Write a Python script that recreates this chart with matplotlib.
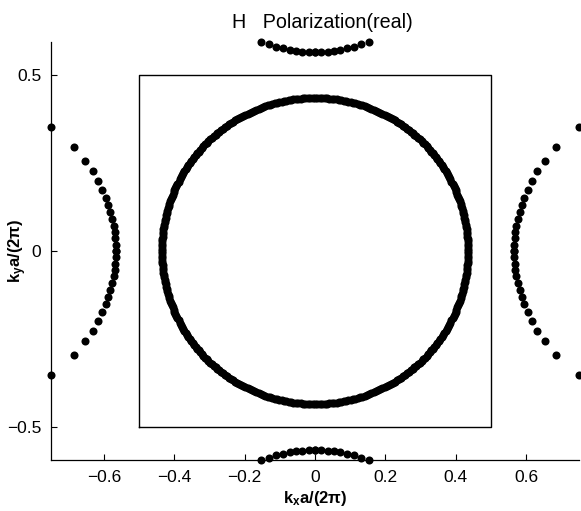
import numpy as np
import matplotlib
matplotlib.use("Agg")
import matplotlib.pyplot as plt

plt.rcParams['font.family'] = ['Liberation Sans', 'DejaVu Sans']
plt.rcParams['mathtext.fontset'] = 'custom'
plt.rcParams['mathtext.rm'] = 'Liberation Sans'
plt.rcParams['mathtext.bf'] = 'Liberation Sans:bold'
plt.rcParams['mathtext.it'] = 'Liberation Sans:italic'

# ---- data ----
title_text = "H   Polarization(real)"
x_label = r"$\mathbf{k_x a/(2\pi)}$"
y_label = r"$\mathbf{k_y a/(2\pi)}$"
x_ticks = [-0.6, -0.4, -0.2, 0, 0.2, 0.4, 0.6]
x_tick_labels = ["\u22120.6", "\u22120.4", "\u22120.2", "0", "0.2", "0.4", "0.6"]
y_ticks = [-0.5, 0, 0.5]
y_tick_labels = ["\u22120.5", "0", "0.5"]

# first Brillouin zone square (corners)
zone_x = [-0.5, 0.5, 0.5, -0.5, -0.5]
zone_y = [-0.5, -0.5, 0.5, 0.5, -0.5]

# main contour: ray directions (deg) and contour radius
ring_angle_deg = [
    0, 0.9, 1.8, 2.7, 3.6, 4.5, 5.4, 6.3, 7.2, 8.1,
    9, 9.9, 10.8, 11.7, 12.6, 13.5, 14.4, 15.3, 16.2, 17.1,
    18, 18.9, 19.8, 20.7, 21.6, 22.5, 23.4, 24.3, 25.2, 26.1,
    27, 27.9, 28.8, 29.7, 30.6, 31.5, 32.4, 33.3, 34.2, 35.1,
    36, 36.9, 37.8, 38.7, 39.6, 40.5, 41.4, 42.3, 43.2, 44.1,
    45, 45.9, 46.8, 47.7, 48.6, 49.5, 50.4, 51.3, 52.2, 53.1,
    54, 54.9, 55.8, 56.7, 57.6, 58.5, 59.4, 60.3, 61.2, 62.1,
    63, 63.9, 64.8, 65.7, 66.6, 67.5, 68.4, 69.3, 70.2, 71.1,
    72, 72.9, 73.8, 74.7, 75.6, 76.5, 77.4, 78.3, 79.2, 80.1,
    81, 81.9, 82.8, 83.7, 84.6, 85.5, 86.4, 87.3, 88.2, 89.1,
    90, 90.9, 91.8, 92.7, 93.6, 94.5, 95.4, 96.3, 97.2, 98.1,
    99, 99.9, 100.8, 101.7, 102.6, 103.5, 104.4, 105.3, 106.2, 107.1,
    108, 108.9, 109.8, 110.7, 111.6, 112.5, 113.4, 114.3, 115.2, 116.1,
    117, 117.9, 118.8, 119.7, 120.6, 121.5, 122.4, 123.3, 124.2, 125.1,
    126, 126.9, 127.8, 128.7, 129.6, 130.5, 131.4, 132.3, 133.2, 134.1,
    135, 135.9, 136.8, 137.7, 138.6, 139.5, 140.4, 141.3, 142.2, 143.1,
    144, 144.9, 145.8, 146.7, 147.6, 148.5, 149.4, 150.3, 151.2, 152.1,
    153, 153.9, 154.8, 155.7, 156.6, 157.5, 158.4, 159.3, 160.2, 161.1,
    162, 162.9, 163.8, 164.7, 165.6, 166.5, 167.4, 168.3, 169.2, 170.1,
    171, 171.9, 172.8, 173.7, 174.6, 175.5, 176.4, 177.3, 178.2, 179.1,
    180, 180.9, 181.8, 182.7, 183.6, 184.5, 185.4, 186.3, 187.2, 188.1,
    189, 189.9, 190.8, 191.7, 192.6, 193.5, 194.4, 195.3, 196.2, 197.1,
    198, 198.9, 199.8, 200.7, 201.6, 202.5, 203.4, 204.3, 205.2, 206.1,
    207, 207.9, 208.8, 209.7, 210.6, 211.5, 212.4, 213.3, 214.2, 215.1,
    216, 216.9, 217.8, 218.7, 219.6, 220.5, 221.4, 222.3, 223.2, 224.1,
    225, 225.9, 226.8, 227.7, 228.6, 229.5, 230.4, 231.3, 232.2, 233.1,
    234, 234.9, 235.8, 236.7, 237.6, 238.5, 239.4, 240.3, 241.2, 242.1,
    243, 243.9, 244.8, 245.7, 246.6, 247.5, 248.4, 249.3, 250.2, 251.1,
    252, 252.9, 253.8, 254.7, 255.6, 256.5, 257.4, 258.3, 259.2, 260.1,
    261, 261.9, 262.8, 263.7, 264.6, 265.5, 266.4, 267.3, 268.2, 269.1,
    270, 270.9, 271.8, 272.7, 273.6, 274.5, 275.4, 276.3, 277.2, 278.1,
    279, 279.9, 280.8, 281.7, 282.6, 283.5, 284.4, 285.3, 286.2, 287.1,
    288, 288.9, 289.8, 290.7, 291.6, 292.5, 293.4, 294.3, 295.2, 296.1,
    297, 297.9, 298.8, 299.7, 300.6, 301.5, 302.4, 303.3, 304.2, 305.1,
    306, 306.9, 307.8, 308.7, 309.6, 310.5, 311.4, 312.3, 313.2, 314.1,
    315, 315.9, 316.8, 317.7, 318.6, 319.5, 320.4, 321.3, 322.2, 323.1,
    324, 324.9, 325.8, 326.7, 327.6, 328.5, 329.4, 330.3, 331.2, 332.1,
    333, 333.9, 334.8, 335.7, 336.6, 337.5, 338.4, 339.3, 340.2, 341.1,
    342, 342.9, 343.8, 344.7, 345.6, 346.5, 347.4, 348.3, 349.2, 350.1,
    351, 351.9, 352.8, 353.7, 354.6, 355.5, 356.4, 357.3, 358.2, 359.1,
]
ring_radius = 0.435

# folded contour, right-hand arc (upper half; mirrored for lower half / left side)
side_arc_x = [0.565, 0.566, 0.567, 0.569, 0.572, 0.576, 0.581, 0.587,
              0.595, 0.604, 0.616, 0.631, 0.653, 0.685, 0.750]
side_arc_y = [0.000, 0.018, 0.036, 0.054, 0.072, 0.091, 0.111, 0.131,
              0.152, 0.174, 0.199, 0.227, 0.257, 0.295, 0.353]

# folded contour, top arc (right half; mirrored)
top_arc_x = [0.000, 0.018, 0.036, 0.054, 0.072, 0.091, 0.111, 0.131, 0.152]
top_arc_y = [0.565, 0.566, 0.567, 0.569, 0.572, 0.576, 0.581, 0.587, 0.594]

# ---- figure ----
fig = plt.figure(figsize=(5.81, 5.11), dpi=100)
ax = fig.add_axes([51 / 581, (511 - 460) / 511, 528 / 581, 418 / 511])

ang = np.deg2rad(np.array(ring_angle_deg))
ring_x = ring_radius * np.cos(ang)
ring_y = ring_radius * np.sin(ang)

sx = np.array(side_arc_x)
sy = np.array(side_arc_y)
tx = np.array(top_arc_x)
ty = np.array(top_arc_y)

mk = dict(linestyle='none', marker='o', color='black', markersize=5.8,
          markeredgewidth=0, clip_on=False)

ax.plot(zone_x, zone_y, color='black', linewidth=1.0, clip_on=False)
ax.plot(ring_x, ring_y, **mk)
for sgn_x in (1, -1):
    for sgn_y in (1, -1):
        ax.plot(sgn_x * sx, sgn_y * sy, **mk)
        ax.plot(sgn_x * tx, sgn_y * ty, **mk)

ax.margins(0)
ax.autoscale(enable=True, tight=True)

ax.spines['top'].set_visible(False)
ax.spines['right'].set_visible(False)
for s in ('left', 'bottom'):
    ax.spines[s].set_linewidth(0.9)

ax.set_xticks(x_ticks)
ax.set_xticklabels(x_tick_labels)
ax.set_yticks(y_ticks)
ax.set_yticklabels(y_tick_labels)
ax.tick_params(direction='in', length=4, width=0.8, labelsize=12.5, pad=7)

ax.set_xlabel(x_label, fontsize=12, labelpad=3)
ax.set_ylabel(y_label, fontsize=12)
ax.yaxis.set_label_coords(-0.042, 0.5)
ax.set_title(title_text, fontsize=14.2, pad=10, x=0.514)

fig.savefig("out.png", dpi=100)
